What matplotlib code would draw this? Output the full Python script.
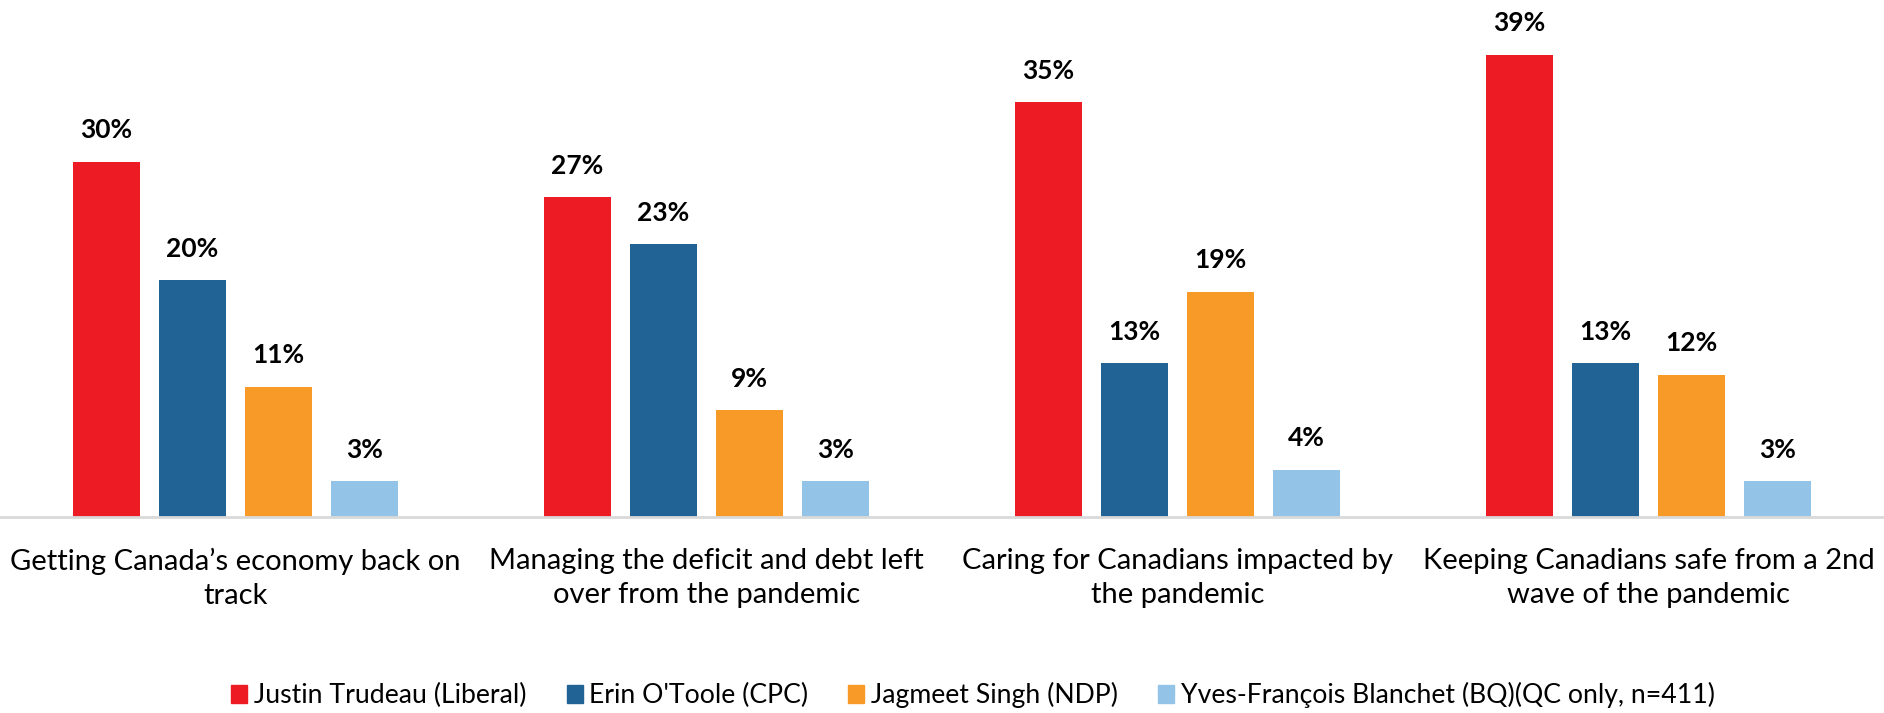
import matplotlib
matplotlib.use("Agg")
import matplotlib.pyplot as plt
import numpy as np
from matplotlib.patches import Patch

categories = ["Getting Canada\u2019s economy back on\ntrack",
              "Managing the deficit and debt left\nover from the pandemic",
              "Caring for Canadians impacted by\nthe pandemic",
              "Keeping Canadians safe from a 2nd\nwave of the pandemic"]
series_names = ["Justin Trudeau (Liberal)", "Erin O'Toole (CPC)",
                "Jagmeet Singh (NDP)", "Yves-Fran\u00e7ois Blanchet (BQ)(QC only, n=411)"]
trudeau = [30, 27, 35, 39]
otoole = [20, 23, 13, 13]
singh = [11, 9, 19, 12]
blanchet = [3, 3, 4, 3]
colors = ["#ED1C24", "#216394", "#F89A27", "#93C3E7"]

plt.rcParams['font.family'] = ['Lato', 'DejaVu Sans']

W, H = 1884, 713
fig = plt.figure(figsize=(W/100, H/100), dpi=100)
base_px = 517
ax = fig.add_axes([0, (H - base_px)/H, 1, base_px/H])

values = [trudeau, otoole, singh, blanchet]
x = np.arange(len(categories))
bw = 67/471
pitch = 86/471
for i, (vals, c) in enumerate(zip(values, colors)):
    pos = x - 1.5*pitch + i*pitch
    bars = ax.bar(pos, vals, width=bw, color=c, label=series_names[i])
    for b, v in zip(bars, vals):
        ax.annotate(f"{v}%", (b.get_x() + b.get_width()/2, v),
                    xytext=(0, 14), textcoords="offset points",
                    ha="center", va="bottom", fontsize=19, fontweight="bold")

ax.set_xlim(-0.5, len(categories) - 0.5)
ax.set_ylim(0, base_px/11.85)
for s in ["top", "right", "left"]:
    ax.spines[s].set_visible(False)
ax.spines["bottom"].set_color("#D9D9D9")
ax.spines["bottom"].set_linewidth(2)
ax.set_yticks([])
ax.set_xticks(x)
ax.set_xticklabels(categories, fontsize=21, linespacing=1.38)
ax.tick_params(axis="x", length=0, pad=22)

handles = [Patch(color=c) for c in colors]
fig.legend(handles, series_names, loc="center", bbox_to_anchor=(973/W, 1 - 695/H),
           ncol=4, frameon=False, fontsize=19.2, handlelength=0.6, handleheight=0.68,
           handletextpad=0.25, columnspacing=1.5, borderpad=0.1)

fig.savefig("out.png", dpi=100)
